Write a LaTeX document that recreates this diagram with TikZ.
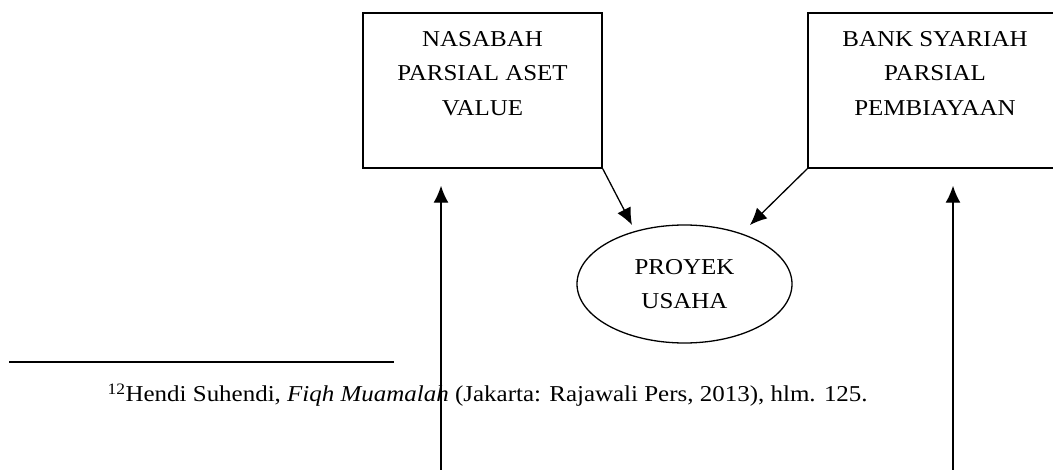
\documentclass[tikz,border=0pt]{standalone}
\usepackage{fontspec}
\setmainfont{Liberation Serif}[FakeStretch=1.1]
\usetikzlibrary{arrows.meta,shapes.geometric}

\begin{document}
\begin{tikzpicture}[x=1pt,y=-1pt,->,>={Latex[length=17pt,width=15pt]},
                    line width=1.3pt,font=\fontsize{22.7}{34.5}\selectfont]
  \tikzstyle{party}=[draw=black,rectangle,line width=1.5pt,align=center,
                     minimum height=155pt,inner sep=0pt]
  \tikzstyle{venture}=[draw=black,ellipse,align=center,minimum width=215pt,
                       minimum height=118pt,inner sep=0pt]

  \useasboundingbox (0,0) rectangle (1053,470);

  \node[party,minimum width=239pt] (N) at (482.5,90.5) {NASABAH\\PARSIAL ASET\\VALUE\\\mbox{}};
  \node[party,minimum width=254pt] (B) at (935,90.5)   {BANK SYARIAH\\PARSIAL\\PEMBIAYAAN\\\mbox{}};
  \node[venture]                   (P) at (684.5,284)  {PROYEK\\USAHA};

  \coordinate (Ntip)  at (632,225);
  \coordinate (Btip)  at (750,225);
  \coordinate (Nfoot) at (441,470);
  \coordinate (Bfoot) at (953,470);

  % footnote
  \draw[-,line width=1.5pt] (9,362) -- (394,362);
  \node[anchor=base west,inner sep=0pt] (ref) at (107,402)
    {\textsuperscript{12}Hendi Suhendi, \textit{Fiqh Muamalah} (Jakarta: Rajawali Pers, 2013), hlm. 125.};

  \draw (N.south east) -- (Ntip);
  \draw (B.south west) -- (Btip);
  \draw[shorten >=17pt] (Nfoot) -- (Nfoot |- N.south);
  \draw[shorten >=17pt] (Bfoot) -- (Bfoot |- B.south);
\end{tikzpicture}
\end{document}
